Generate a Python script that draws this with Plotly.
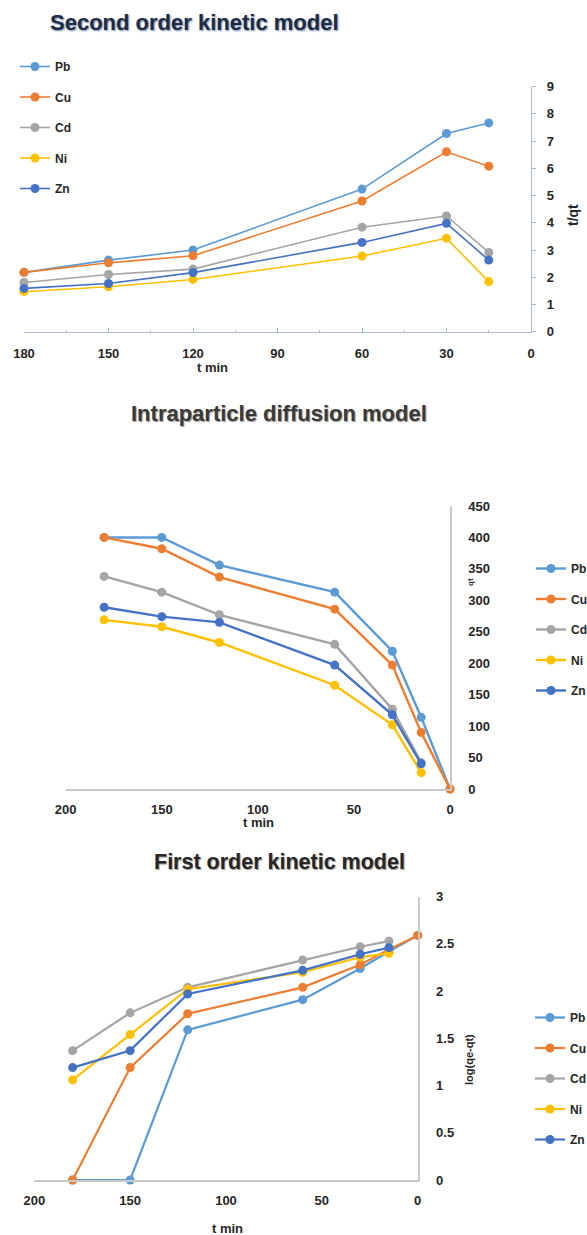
import plotly.graph_objects as go

# ---- data ----
metals = ["Pb", "Cu", "Cd", "Ni", "Zn"]
colors = ["#5B9BD5", "#ED7D31", "#A5A5A5", "#FFC000", "#4472C4"]

# Second order kinetic model: t/qt vs t
t_second = [180, 150, 120, 60, 30, 15]
second_pb = [2.18, 2.63, 3.00, 5.24, 7.28, 7.67]
second_cu = [2.18, 2.53, 2.79, 4.80, 6.61, 6.08]
second_cd = [1.81, 2.10, 2.30, 3.84, 4.25, 2.91]
second_ni = [1.47, 1.65, 1.92, 2.78, 3.43, 1.84]
second_zn = [1.59, 1.77, 2.17, 3.28, 3.98, 2.63]

# Intraparticle diffusion model: qt vs t
t_intra_long = [180, 150, 120, 60, 30, 15, 0]
t_intra_short = [180, 150, 120, 60, 30, 15]
intra_pb = [400, 400, 356, 313, 219, 114, 0]
intra_cu = [400, 382, 337, 286, 197, 90, 0]
intra_cd = [338, 313, 277, 230, 127, 42]
intra_ni = [269, 258, 233, 165, 102, 26]
intra_zn = [289, 274, 265, 197, 118, 40]

# First order kinetic model: log(qe-qt) vs t
t_first_long = [180, 150, 120, 60, 30, 15, 0]
t_first_short = [180, 150, 120, 60, 30, 15]
first_pb = [0.0, 0.0, 1.59, 1.91, 2.24, 2.42, 2.59]
first_cu = [0.0, 1.19, 1.76, 2.04, 2.28, 2.44, 2.59]
first_cd = [1.37, 1.77, 2.04, 2.33, 2.47, 2.53]
first_ni = [1.06, 1.54, 2.02, 2.20, 2.36, 2.40]
first_zn = [1.19, 1.37, 1.97, 2.22, 2.39, 2.46]

second_series = [second_pb, second_cu, second_cd, second_ni, second_zn]
intra_series = [intra_pb, intra_cu, intra_cd, intra_ni, intra_zn]
first_series = [first_pb, first_cu, first_cd, first_ni, first_zn]

W, H = 587, 1235
FONT = "Liberation Sans"
TXT = "#262626"


def px_x(p):
    return p / W


def px_y(p):
    return 1 - p / H


fig = go.Figure()

for i, m in enumerate(metals):
    fig.add_trace(go.Scatter(
        x=t_second, y=second_series[i], name=m, mode="lines+markers",
        line=dict(color=colors[i], width=1.6),
        marker=dict(color=colors[i], size=9),
        xaxis="x", yaxis="y", legend="legend", legendgroup="a" + m,
        cliponaxis=False,
    ))

for i, m in enumerate(metals):
    xs = t_intra_long if len(intra_series[i]) == len(t_intra_long) else t_intra_short
    fig.add_trace(go.Scatter(
        x=xs, y=intra_series[i], name=m, mode="lines+markers",
        line=dict(color=colors[i], width=2.4),
        marker=dict(color=colors[i], size=9),
        xaxis="x2", yaxis="y2", legend="legend2", legendgroup="b" + m,
        cliponaxis=False,
    ))

for i, m in enumerate(metals):
    xs = t_first_long if len(first_series[i]) == len(t_first_long) else t_first_short
    fig.add_trace(go.Scatter(
        x=xs, y=first_series[i], name=m, mode="lines+markers",
        line=dict(color=colors[i], width=2.2),
        marker=dict(color=colors[i], size=9),
        xaxis="x3", yaxis="y3", legend="legend3", legendgroup="c" + m,
        cliponaxis=False,
    ))

tickfont = dict(family=FONT, size=13, color=TXT, weight="bold")
blue_axis = "#AEBBCF"
gray_axis = "#C9C9C9"

fig.update_layout(
    width=W, height=H, autosize=False,
    margin=dict(l=0, r=0, t=0, b=0, autoexpand=False),
    paper_bgcolor="white", plot_bgcolor="white",
    font=dict(family=FONT, color=TXT),
    # top panel
    xaxis=dict(domain=[px_x(24), px_x(531)], range=[180, 0], anchor="y",
               tick0=0, dtick=30, showgrid=False, zeroline=False,
               showline=True, linecolor=blue_axis, linewidth=1.2,
               ticks="inside", ticklen=4, tickcolor=blue_axis,
               minor=dict(ticks="inside", ticklen=2, dtick=15, tickcolor=blue_axis),
               tickfont=tickfont, ticklabelstandoff=10),
    yaxis=dict(domain=[px_y(331.7), px_y(86.7)], range=[0, 9], anchor="x",
               side="right", dtick=1, showgrid=False, zeroline=False,
               showline=True, linecolor=blue_axis, linewidth=1.2,
               ticks="outside", ticklen=4, tickcolor=blue_axis,
               tickfont=tickfont, ticklabelstandoff=8),
    # middle panel
    xaxis2=dict(domain=[px_x(65.7), px_x(450)], range=[200, 0], anchor="y2",
                tick0=0, dtick=50, showgrid=False, zeroline=False,
                showline=True, linecolor=gray_axis, linewidth=1.5,
                ticks="", tickfont=tickfont, ticklabelstandoff=8),
    yaxis2=dict(domain=[px_y(789), px_y(506)], range=[0, 450], anchor="x2",
                side="right", dtick=50, showgrid=False, zeroline=False,
                showline=True, linecolor=gray_axis, linewidth=1.5,
                ticks="", tickfont=tickfont, ticklabelstandoff=14),
    # bottom panel
    xaxis3=dict(domain=[px_x(34.3), px_x(417.7)], range=[200, 0], anchor="y3",
                tick0=0, dtick=50, showgrid=False, zeroline=False,
                showline=True, linecolor=gray_axis, linewidth=1.5,
                ticks="", tickfont=tickfont, ticklabelstandoff=8),
    yaxis3=dict(domain=[px_y(1180), px_y(896.7)], range=[0, 3], anchor="x3",
                side="right", dtick=0.5, showgrid=False, zeroline=False,
                showline=True, linecolor=gray_axis, linewidth=1.5,
                ticks="", tickfont=tickfont, ticklabelstandoff=14),
)

legend_common = dict(
    xanchor="left", yanchor="top", orientation="v",
    bgcolor="rgba(0,0,0,0)", borderwidth=0,
    traceorder="grouped", tracegroupgap=11.5,
    font=dict(family=FONT, size=12, color=TXT, weight="bold"),
    itemclick=False, itemdoubleclick=False,
)
fig.update_layout(
    legend=dict(x=px_x(15), y=px_y(52), **legend_common),
    legend2=dict(x=px_x(531), y=px_y(554), **legend_common),
    legend3=dict(x=px_x(530), y=px_y(1003), **legend_common),
)

annotations = [
    dict(text="Second order kinetic model", x=px_x(194), y=px_y(22),
         font=dict(family=FONT, size=22, color="#1E2B40", weight="bold",
                   shadow="1px 1px 2px #6E86AD")),
    dict(text="Intraparticle diffusion model", x=px_x(279), y=px_y(413),
         font=dict(family=FONT, size=22, color="#3A3A3A", weight="bold",
                   shadow="1px 1px 1px #9A9A9A")),
    dict(text="First order kinetic model", x=px_x(279), y=px_y(862),
         font=dict(family=FONT, size=21.5, color="#262626", weight="bold",
                   shadow="1px 1px 1px #9A9A9A")),
    dict(text="t min", x=px_x(212), y=px_y(367),
         font=dict(family=FONT, size=13, color=TXT, weight="bold")),
    dict(text="t min", x=px_x(258), y=px_y(822),
         font=dict(family=FONT, size=13, color=TXT, weight="bold")),
    dict(text="t min", x=px_x(227), y=px_y(1228),
         font=dict(family=FONT, size=13, color=TXT, weight="bold")),
    dict(text="t/qt", x=px_x(573), y=px_y(215), textangle=-90,
         font=dict(family=FONT, size=14, color=TXT, weight="bold")),
    dict(text="qt", x=px_x(470), y=px_y(582), textangle=-90,
         font=dict(family=FONT, size=8, color=TXT, weight="bold")),
    dict(text="log(qe-qt)", x=px_x(469), y=px_y(1060), textangle=-90,
         font=dict(family=FONT, size=11, color=TXT, weight="bold")),
]
for a in annotations:
    a.update(xref="paper", yref="paper", showarrow=False,
             xanchor="center", yanchor="middle")
fig.update_layout(annotations=annotations)

fig.write_html("out.html")
